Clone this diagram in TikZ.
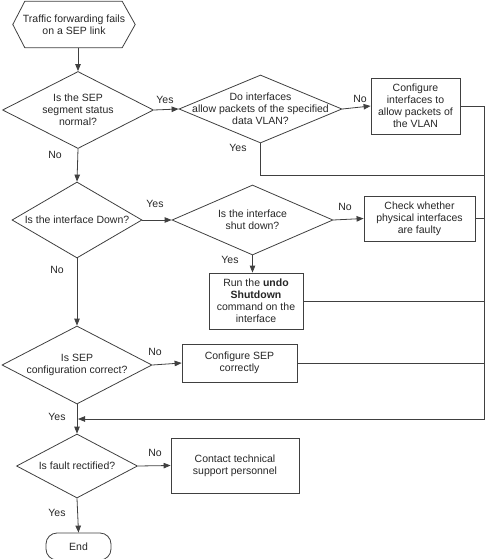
\documentclass[tikz,border=0pt]{standalone}
\usepackage{fontspec}
\setmainfont{Liberation Sans}
\usetikzlibrary{shapes.geometric,arrows.meta}
\begin{document}
\begin{tikzpicture}[x=1pt,y=-1pt,
  every node/.style={font=\fontsize{10.5}{12}\selectfont, text=black!85},
  ln/.style={draw=black!75, line width=0.8pt},
  arr/.style={ln, -{Triangle[length=7pt,width=5.5pt]}},
  dia/.style={shape=diamond, draw=black!75, line width=0.8pt, inner sep=0pt},
  txt/.style={align=center, inner sep=0pt},
  box/.style={draw=black!75, line width=0.8pt, align=center, inner sep=0pt},
  lab/.style={inner sep=0pt}]
\useasboundingbox (0,0) rectangle (486,559);
% start hexagon
\node[txt, minimum width=122pt, minimum height=46pt] (start) at (74,24.5) {Traffic forwarding fails\\on a SEP link};
\draw[ln] (start.west) -- ([xshift=12pt]start.north west) -- ([xshift=-13pt]start.north east) -- (start.east) -- ([xshift=-13pt]start.south east) -- ([xshift=12pt]start.south west) -- cycle;
% diamonds
\node[dia, minimum width=151pt, minimum height=77pt] (d1) at (78,110) {};
\node[txt] (t1) at (d1) {Is the SEP\\segment status\\normal?};
\node[dia, minimum width=163pt, minimum height=68pt] (d2) at (260.5,109) {};
\node[txt] (t2) at (d2) {Do interfaces\\allow packets of the specified\\data VLAN?};
\node[dia, minimum width=130pt, minimum height=76pt] (d3) at (77,220) {};
\node[txt] (t3) at (d3) {Is the interface Down?};
\node[dia, minimum width=161pt, minimum height=70pt] (d4) at (252.5,220) {};
\node[txt] (t4) at (d4) {Is the interface\\shut down?};
\node[dia, minimum width=150pt, minimum height=78pt] (d5) at (77,365) {};
\node[txt] (t5) at (d5) {Is SEP\\configuration correct?};
\node[dia, minimum width=121pt, minimum height=64pt] (d6) at (77,466) {};
\node[txt] (t6) at (d6) {Is fault rectified?};
% boxes
\node[box, minimum width=89pt, minimum height=56pt] (b1) at (415.5,106) {Configure\\interfaces to\\allow packets of\\the VLAN};
\node[box, minimum width=111pt, minimum height=45pt] (b2) at (419.5,218.5) {Check whether\\physical interfaces\\are faulty};
\node[box, minimum width=94pt, minimum height=56pt] (b3) at (256,301) {Run the \textbf{undo}\\\textbf{Shutdown}\\command on the\\interface};
\node[box, minimum width=115pt, minimum height=38pt] (b4) at (239.5,363) {Configure SEP\\correctly};
\node[box, minimum width=128pt, minimum height=55pt] (b5) at (235,465.5) {Contact technical\\support personnel};
\node[box, rounded corners=11pt, minimum width=65pt, minimum height=27pt] (end) at (78.5,546.5) {End};
% coordinates
\coordinate (R) at (484,0);
\coordinate (join) at (77,419);
\coordinate (y2) at (0,175);
% connectors
\draw[arr] (d1.north |- start.south) -- (d1.north);
\draw[arr] (d1.east) -- (d2.west);
\draw[arr] (d2.east) -- (b1.west);
\draw[arr] (d1.south) -- (d3.north);
\draw[arr] (d3.east) -- (d4.west);
\draw[arr] (d4.east) -- (b2.west);
\draw[arr] (d4.south) -- (d4.south |- b3.north);
\draw[arr] (d3.south) -- (d5.north);
\draw[arr] (d5.east) -- (b4.west);
\draw[arr] (d5.south) -- (d6.north);
\draw[arr] (d6.east) -- (b5.west);
\draw[arr] (d6.south) -- (end.north);
\draw[ln] (d2.south) -- (d2.south |- y2) -- (R |- y2);
\draw[ln] (b2.east) -- (b2.east -| R);
\draw[ln] (b3.east) -- (b3.east -| R);
\draw[ln] (b4.east) -- (b4.east -| R);
\draw[arr] (b1.east) -- (b1.east -| R) -- (R |- join) -- ([xshift=1pt]join);
% labels
\node[lab] (l1) at (165,100) {Yes};
\node[lab] (l2) at (360,99) {No};
\node[lab] (l3) at (238,148) {Yes};
\node[lab] (l4) at (55,155) {No};
\node[lab] (l5) at (155,204) {Yes};
\node[lab] (l6) at (345,207) {No};
\node[lab] (l7) at (230,260) {Yes};
\node[lab] (l8) at (57,270) {No};
\node[lab] (l9) at (155,352) {No};
\node[lab] (l10) at (57,417) {Yes};
\node[lab] (l11) at (155,453) {No};
\node[lab] (l12) at (57,513) {Yes};
\end{tikzpicture}
\end{document}
